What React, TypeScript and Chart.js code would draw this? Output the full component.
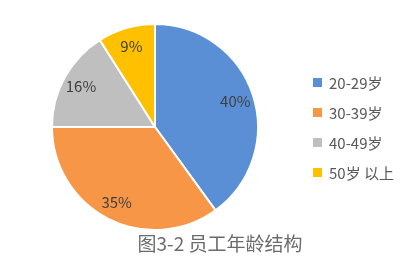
import React, { useEffect, useRef } from "react";
import { Chart, registerables } from "chart.js";

Chart.register(...registerables);

const categories = ["20-29岁", "30-39岁", "40-49岁", "50岁 以上"];
const values = [40, 35, 16, 9];
const colors = ["#5B8FD5", "#F79646", "#BFBFBF", "#FFC000"];
const title = "图3-2 员工年龄结构";

const labelPlugin = {
  id: "sliceLabels",
  afterDatasetsDraw(chart: any) {
    const ctx = chart.ctx;
    const meta = chart.getDatasetMeta(0);
    const total = values.reduce((a, b) => a + b, 0);
    ctx.save();
    ctx.font = '15px "Noto Sans CJK SC", sans-serif';
    ctx.fillStyle = "#404040";
    ctx.textAlign = "center";
    ctx.textBaseline = "middle";
    meta.data.forEach((arc: any, i: number) => {
      const mid = (arc.startAngle + arc.endAngle) / 2;
      const r = arc.outerRadius * 0.82;
      const x = arc.x + Math.cos(mid) * r;
      const y = arc.y + Math.sin(mid) * r;
      ctx.fillText(Math.round((values[i] / total) * 100) + "%", x, y);
    });
    ctx.restore();
  },
};

export default function App() {
  const ref = useRef<HTMLCanvasElement>(null);
  useEffect(() => {
    document.body.style.margin = "0";
    const chart = new Chart(ref.current!, {
      type: "pie",
      data: {
        labels: categories,
        datasets: [
          {
            data: values,
            backgroundColor: colors,
            borderColor: "#FFFFFF",
            borderWidth: 2,
          },
        ],
      },
      options: {
        animation: false,
        responsive: false,
        maintainAspectRatio: false,
        layout: { padding: { left: 51, right: 150, top: 23, bottom: 39 } },
        plugins: { legend: { display: false }, tooltip: { enabled: false }, title: { display: false } },
      },
      plugins: [labelPlugin],
    });
    return () => chart.destroy();
  }, []);

  return (
    <div style={{ position: "relative", width: 409, height: 270, background: "#fff", overflow: "hidden" }}>
      <canvas ref={ref} width={409} height={270} style={{ position: "absolute", left: 0, top: 0 }} />
      {categories.map((c, i) => (
        <div
          key={c}
          style={{
            position: "absolute",
            left: 313,
            top: 82 + i * 30 - 11,
            height: 22,
            display: "flex",
            alignItems: "center",
            fontFamily: '"Noto Sans CJK SC", sans-serif',
            fontSize: 15,
            color: "#595959",
            whiteSpace: "nowrap",
          }}
        >
          <span style={{ display: "inline-block", width: 9, height: 9, background: colors[i], marginRight: 7 }} />
          {c}
        </div>
      ))}
      <div
        style={{
          position: "absolute",
          left: 0,
          width: 440,
          top: 231,
          textAlign: "center",
          fontFamily: '"Noto Sans CJK SC", sans-serif',
          fontSize: 19,
          color: "#6b6b6b",
          whiteSpace: "nowrap",
          lineHeight: "24px",
        }}
      >
        {title}
      </div>
    </div>
  );
}
